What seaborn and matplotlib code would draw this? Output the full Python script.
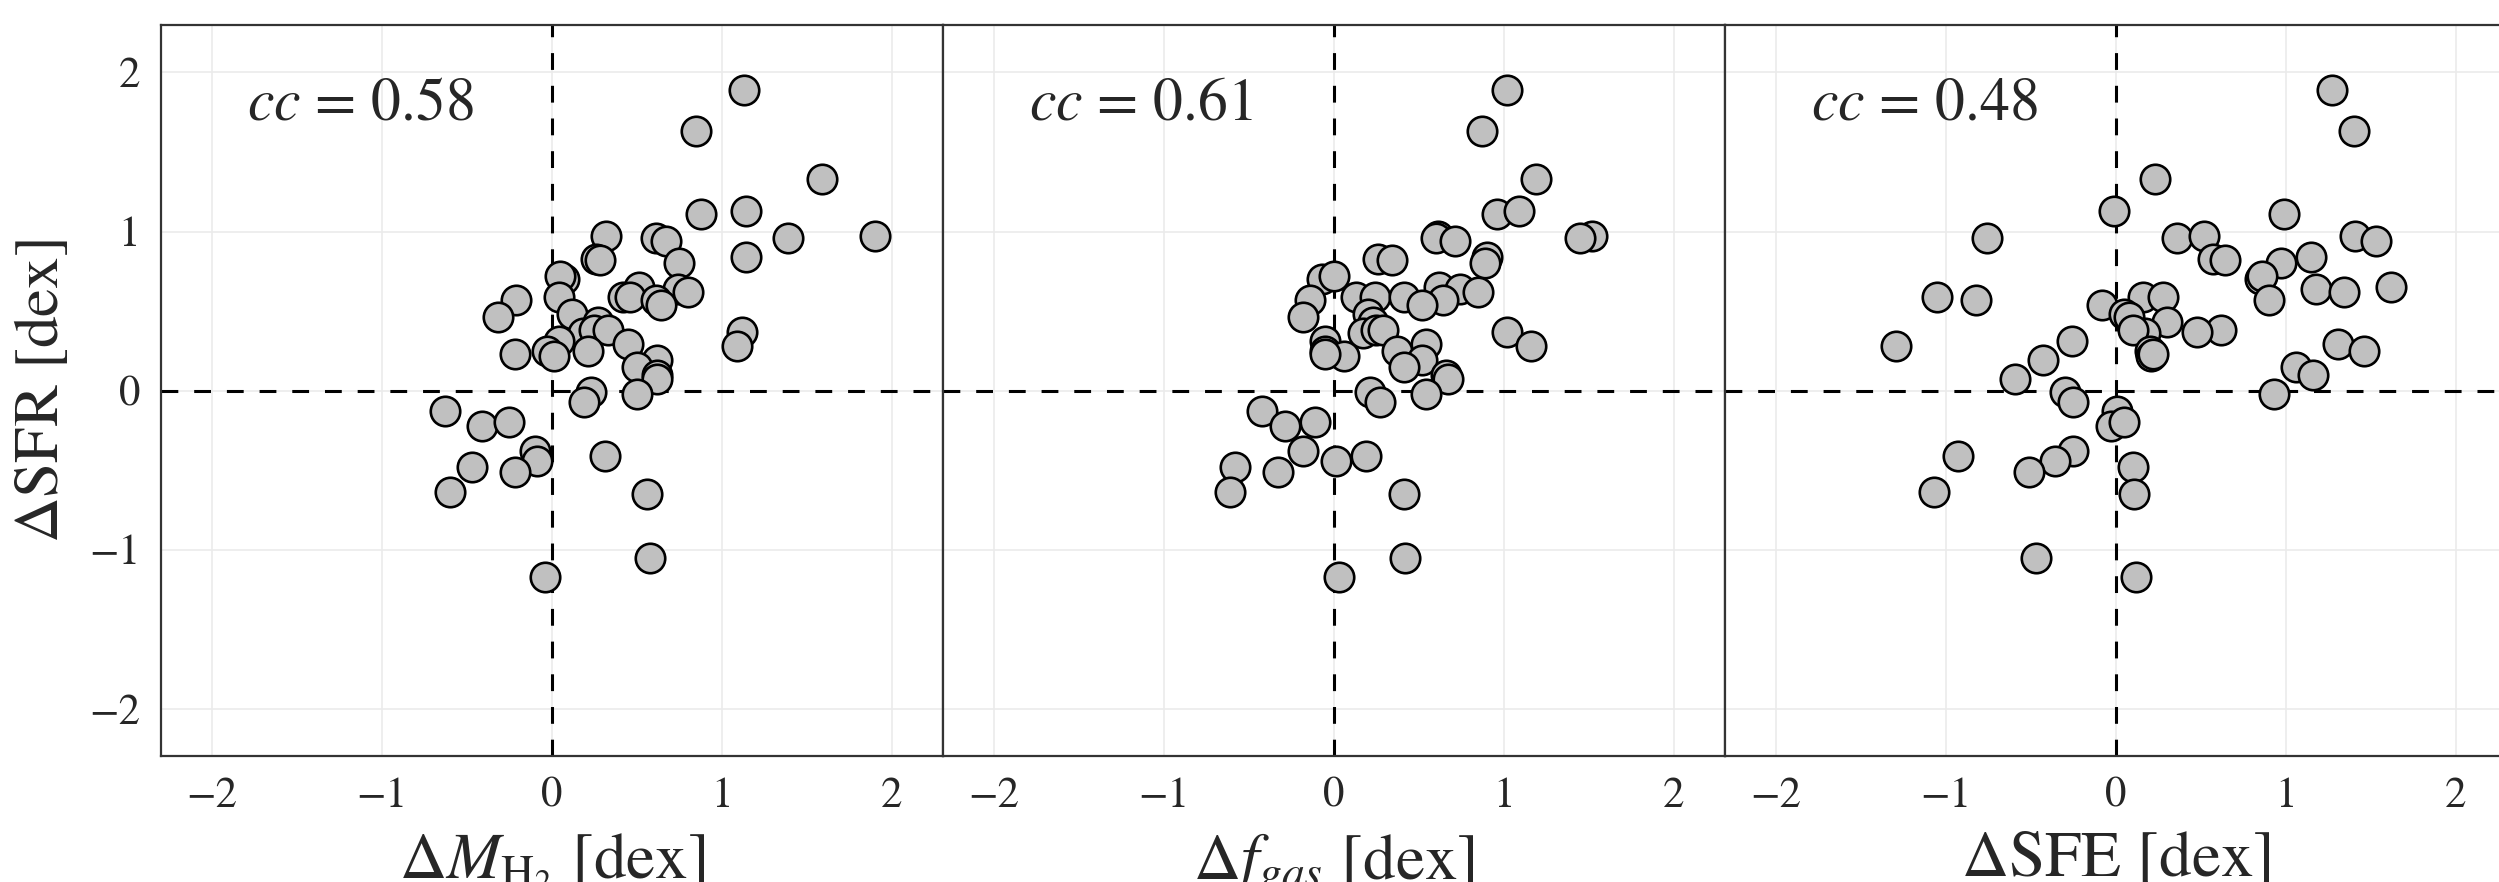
import numpy as np
import pandas as pd
import matplotlib
matplotlib.use("Agg")
import matplotlib.pyplot as plt
import seaborn as sns

# ==============================
# data
# ==============================

d_sfr = [1.89, 1.63, 1.33, 1.11, 1.13, 0.97, 0.96, 0.97, 0.96, 0.94,
         0.84, 0.83, 0.82, 0.80, 0.70, 0.72, 0.65, 0.64, 0.62, 0.59,
         0.59, 0.59, 0.57, 0.57, 0.54, 0.48, 0.46, 0.43, 0.36, 0.38,
         0.38, 0.37, 0.28, 0.29, 0.31, 0.25, 0.25, 0.22, 0.23, 0.19,
         0.15, 0.10, 0.07, -0.01, -0.02, -0.07, -0.13, -0.22, -0.20, -0.38,
         -0.44, -0.41, -0.48, -0.51, -0.64, -0.65, -1.05, -1.17]

d_mh2 = [1.13, 0.85, 1.59, 0.88, 1.14, 1.90, 1.39, 0.32, 0.61, 0.67,
         1.14, 0.26, 0.28, 0.75, 0.07, 0.05, 0.51, 0.74, 0.80, 0.04,
         0.42, 0.46, -0.21, 0.61, 0.64, 0.12, -0.32, 0.27, 0.18, 0.25,
         0.33, 1.12, 1.09, 0.45, 0.04, -0.03, 0.21, 0.01, -0.22, 0.62,
         0.50, 0.62, 0.62, 0.23, 0.50, 0.19, -0.63, -0.41, -0.25, -0.10,
         -0.09, 0.31, -0.47, -0.22, -0.60, 0.56, 0.58, -0.04]

d_fgas = [1.02, 0.87, 1.19, 0.96, 1.09, 1.52, 1.45, 0.61, 0.60, 0.71,
          0.90, 0.26, 0.34, 0.89, -0.07, 0.00, 0.62, 0.74, 0.85, 0.13,
          0.24, 0.41, -0.14, 0.64, 0.52, 0.20, -0.18, 0.23, 0.17, 0.25,
          0.29, 1.02, 1.16, 0.54, -0.05, -0.05, 0.37, 0.06, -0.05, 0.52,
          0.41, 0.66, 0.67, 0.21, 0.54, 0.27, -0.42, -0.29, -0.11, -0.18,
          0.01, 0.19, -0.58, -0.33, -0.61, 0.41, 0.42, 0.03]

d_sfe = [1.27, 1.40, 0.23, 0.99, -0.01, 1.41, 0.36, 0.52, -0.76, 1.53,
         1.15, 0.57, 0.64, 0.97, 0.85, 0.86, 1.62, 1.18, 1.34, -1.05,
         0.16, 0.28, -0.82, 0.90, -0.08, 0.05, 0.08, 0.30, 0.17, 0.10,
         0.62, 0.48, -1.29, 1.31, -0.26, 1.46, 0.20, 0.21, 0.22, -0.43,
         1.06, 1.16, -0.59, -0.30, 0.93, -0.25, 0.01, -0.03, 0.05, -0.25,
         -0.36, -0.93, 0.10, -0.51, -1.07, 0.11, -0.47, 0.12]

cc_values = [0.58, 0.61, 0.48]
x_names = ["d_mh2", "d_fgas", "d_sfe"]
x_labels = [r"$\Delta M_{\rm H_2}$ [dex]", r"$\Delta f_{gas}$ [dex]", r"$\Delta$SFE [dex]"]
y_label = r"$\Delta$SFR [dex]"

df = pd.DataFrame({"d_sfr": d_sfr, "d_mh2": d_mh2, "d_fgas": d_fgas, "d_sfe": d_sfe})

# ==============================
# style
# ==============================

sns.set_style("whitegrid", {"axes.edgecolor": ".2", "grid.color": ".92",
                            "text.color": ".15", "xtick.color": ".15",
                            "ytick.color": ".15", "axes.labelcolor": ".15"})
plt.rcParams["font.family"] = ["STIXGeneral", "Liberation Serif", "DejaVu Serif"]
plt.rcParams["mathtext.fontset"] = "stix"
plt.rcParams["axes.unicode_minus"] = True

fig, axes = plt.subplots(1, 3, figsize=(24.99, 8.82), dpi=100, sharey=True)
fig.subplots_adjust(left=0.0644, right=0.0644 + 3 * 0.3129, bottom=0.1423,
                    top=0.972, wspace=0)

for i, ax in enumerate(axes):
    ax.axhline(0, color="black", lw=2.2, ls=(0, (5.5, 5.2)), zorder=2)
    ax.axvline(0, color="black", lw=2.2, ls=(0, (5.5, 5.2)), zorder=2)
    sns.scatterplot(data=df, x=x_names[i], y="d_sfr", ax=ax, s=450,
                    color="#c0c0c0", edgecolor="black", linewidth=1.9,
                    zorder=3, legend=False)
    ax.set_xlim(-2.3, 2.3)
    ax.set_ylim(-2.3, 2.3)
    ax.set_xticks([-2, -1, 0, 1, 2])
    ax.set_yticks([-2, -1, 0, 1, 2])
    ax.grid(True, color=".92", lw=1.2, zorder=0)
    ax.set_axisbelow(True)
    for sp in ax.spines.values():
        sp.set_linewidth(1.6)
        sp.set_color(".2")
    ax.tick_params(axis="both", labelsize=31, length=0, pad=15)
    ax.set_xlabel(x_labels[i], fontsize=47, labelpad=11)
    ax.set_ylabel("")
    ax.text(0.11, 0.87, rf"$cc$ = {cc_values[i]:.2f}", transform=ax.transAxes,
            fontsize=43, va="baseline", ha="left")

axes[0].set_ylabel(y_label, fontsize=45.5, labelpad=12)

plt.savefig("out.png", dpi=100)
